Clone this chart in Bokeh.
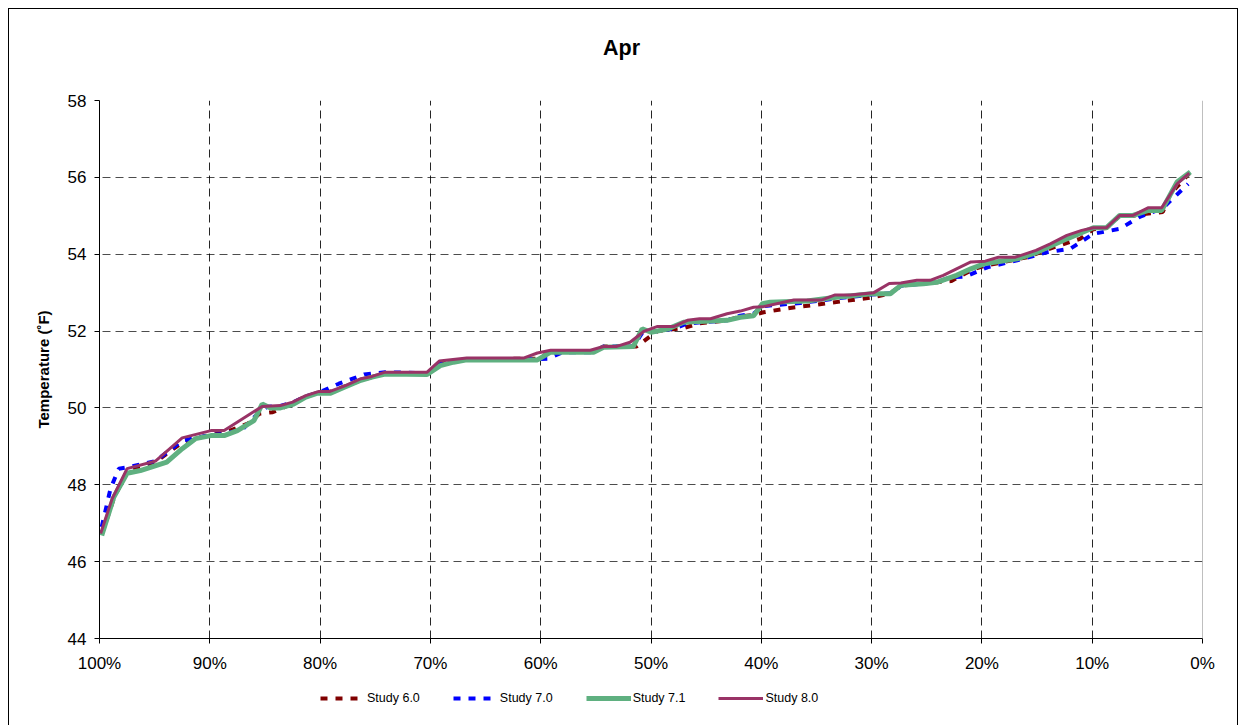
from bokeh.plotting import figure
from bokeh.layouts import column
from bokeh.models import Range1d, FixedTicker, Legend, LegendItem, Span, Label
from bokeh.embed import file_html
from bokeh.resources import INLINE

# ---------------- data ----------------
title_text = "Apr"
y_label = "Temperature (˚F)"
series_names = ["Study 6.0", "Study 7.0", "Study 7.1", "Study 8.0"]

x_ticks = [100, 90, 80, 70, 60, 50, 40, 30, 20, 10, 0]
x_tick_labels = ["100%", "90%", "80%", "70%", "60%", "50%", "40%", "30%", "20%", "10%", "0%"]
y_ticks = [44, 46, 48, 50, 52, 54, 56, 58]

# Study 6.0
x60 = [99.8, 98.7, 97.5, 94.9, 92.5, 90.0, 88.7, 86.5, 85.5, 84.3, 83.0, 81.3, 80.1, 79.1, 77.7, 76.3,
       74.1, 70.3, 69.1, 66.7, 60.3, 59.1, 55.2, 54.3, 51.9, 51.3, 50.0, 49.4, 47.05, 45.6, 43.1, 41.9,
       40.7, 39.8, 37.4, 34.9, 32.5, 30.1, 28.4, 27.35, 24.1, 22.8, 20.7, 19.7, 15.9, 13.5, 11.1, 9.9,
       8.7, 7.5, 6.3, 5.1, 3.6, 2.9, 1.2]
y60 = [46.7, 47.65, 48.35, 48.6, 49.1, 49.3, 49.35, 49.6, 49.85, 49.89, 50.05, 50.3, 50.4, 50.42, 50.57, 50.72,
       50.9, 50.9, 51.15, 51.27, 51.28, 51.45, 51.47, 51.6, 51.6, 51.6, 51.88, 52.0, 52.08, 52.2, 52.28, 52.38,
       52.42, 52.49, 52.6, 52.69, 52.78, 52.87, 52.97, 53.18, 53.27, 53.3, 53.62, 53.7, 53.92, 54.18, 54.4, 54.65,
       54.68, 55.0, 55.0, 55.05, 55.1, 55.57, 56.1]

# Study 7.0
x70 = [99.8, 99.0, 98.25, 97.5, 94.9, 92.5, 89.9, 88.7, 87.0, 85.5, 84.8, 83.6, 82.4, 81.3, 80.1, 78.3,
       76.0, 74.1, 70.3, 69.1, 66.7, 60.3, 59.4, 58.0, 55.2, 54.3, 51.6, 50.8, 49.4, 47.9, 46.7, 43.1,
       41.9, 40.7, 39.9, 36.45, 33.2, 30.0, 28.1, 27.35, 24.1, 22.85, 21.5, 19.5, 16.8, 14.1, 12.0, 9.9,
       7.5, 5.7, 3.6, 1.3]
y70 = [46.9, 47.9, 48.42, 48.45, 48.62, 49.15, 49.3, 49.32, 49.45, 49.9, 50.03, 50.05, 50.15, 50.3, 50.4, 50.63,
       50.87, 50.93, 50.9, 51.15, 51.27, 51.27, 51.28, 51.45, 51.45, 51.6, 51.6, 51.95, 52.0, 52.06, 52.2, 52.28,
       52.4, 52.45, 52.65, 52.73, 52.85, 52.95, 52.99, 53.18, 53.27, 53.4, 53.42, 53.66, 53.84, 54.05, 54.14, 54.53,
       54.66, 54.97, 55.2, 55.83]

# Study 7.1
x71 = [99.8, 98.7, 97.5, 96.3, 93.9, 92.5, 91.3, 89.9, 88.7, 87.5, 86.0, 85.25, 84.5, 83.6, 82.4, 81.3,
       80.3, 79.1, 77.85, 76.3, 75.3, 74.1, 70.3, 69.1, 67.9, 66.7, 60.3, 59.1, 55.2, 54.3, 51.6, 50.8,
       50.0, 48.5, 47.05, 43.1, 41.9, 40.7, 39.9, 39.2, 35.85, 33.2, 30.0, 28.3, 27.35, 25.3, 24.1, 22.3,
       21.0, 19.8, 16.8, 15.0, 12.3, 9.9, 8.7, 7.5, 6.3, 4.9, 3.7, 2.3, 1.1]
y71 = [46.68, 47.68, 48.3, 48.37, 48.59, 48.94, 49.2, 49.28, 49.28, 49.41, 49.67, 50.1, 50.0, 50.0, 50.1, 50.28,
       50.38, 50.38, 50.53, 50.72, 50.8, 50.88, 50.87, 51.1, 51.19, 51.25, 51.25, 51.45, 51.45, 51.58, 51.6, 52.06,
       51.97, 52.05, 52.23, 52.28, 52.36, 52.4, 52.71, 52.75, 52.78, 52.88, 52.97, 52.97, 53.19, 53.23, 53.27, 53.45,
       53.62, 53.75, 53.88, 54.05, 54.4, 54.69, 54.69, 55.01, 55.01, 55.14, 55.14, 55.88, 56.14]

# Study 8.0
x80 = [99.9, 98.85, 97.5, 94.9, 92.5, 89.9, 88.7, 85.25, 83.6, 82.5, 81.3, 80.1, 79.1, 77.7, 76.3, 75.3,
       74.1, 70.3, 69.2, 66.7, 61.5, 60.3, 59.1, 55.5, 54.3, 53.1, 51.9, 50.65, 49.4, 47.9, 46.7, 45.6,
       44.6, 43.1, 41.9, 40.7, 39.9, 38.3, 37.05, 34.5, 33.3, 31.9, 29.8, 28.4, 27.35, 25.9, 24.7, 23.5,
       22.3, 21.0, 19.7, 18.5, 17.0, 15.1, 13.8, 12.3, 10.95, 9.9, 8.7, 7.5, 6.3, 4.9, 3.7, 2.3, 1.2]
y80 = [46.73, 47.64, 48.42, 48.62, 49.22, 49.41, 49.41, 50.04, 50.06, 50.15, 50.32, 50.43, 50.43, 50.58, 50.76, 50.82,
       50.93, 50.93, 51.22, 51.3, 51.3, 51.43, 51.5, 51.5, 51.6, 51.6, 51.71, 51.99, 52.12, 52.12, 52.28, 52.32,
       52.32, 52.45, 52.52, 52.62, 52.63, 52.73, 52.81, 52.81, 52.94, 52.94, 53.0, 53.24, 53.25, 53.32, 53.32, 53.45,
       53.62, 53.8, 53.82, 53.92, 53.92, 54.1, 54.27, 54.49, 54.62, 54.69, 54.69, 55.01, 55.01, 55.21, 55.21, 55.83, 56.11]

# ---------------- styles ----------------
FONT = "Liberation Sans"
series_styles = [
    dict(line_color="#800000", line_width=4, line_dash="7 8"),
    dict(line_color="#0000FF", line_width=4, line_dash="7 8"),
    dict(line_color="#5FB080", line_width=5),
    dict(line_color="#993366", line_width=3),
]
series_x = [x60, x70, x71, x80]
series_y = [y60, y70, y71, y80]
W = 1228
BL, BR = 90, 35   # left / right borders shared by all strips so frames coincide

# ---------------- title strip ----------------
tf = figure(width=W, height=60, output_backend="svg", toolbar_location=None, title=None,
            x_axis_type=None, y_axis_type=None,
            min_border_left=BL, min_border_right=BR, min_border_top=0, min_border_bottom=0,
            x_range=Range1d(100, 0), y_range=Range1d(0, 60),
            background_fill_color="white", border_fill_color="white")
tf.outline_line_color = None
tf.xgrid.visible = False
tf.ygrid.visible = False
tf.add_layout(Label(x=52.67, y=22, text=title_text, text_align="center", text_baseline="middle",
                    text_font=FONT, text_font_size="21.5px", text_font_style="bold",
                    text_color="black"))

# ---------------- main chart ----------------
p = figure(width=W, height=611, output_backend="svg", toolbar_location=None, title=None,
           x_range=Range1d(100, 0), y_range=Range1d(44, 58),
           min_border_left=BL, min_border_right=BR, min_border_top=31, min_border_bottom=42,
           background_fill_color="white", border_fill_color="white")
p.outline_line_color = None

p.xaxis.ticker = FixedTicker(ticks=x_ticks)
p.xaxis.major_label_overrides = {t: l for t, l in zip(x_ticks, x_tick_labels)}
p.yaxis.ticker = FixedTicker(ticks=y_ticks)
p.yaxis.axis_label = y_label

for ax in (p.xaxis[0], p.yaxis[0]):
    ax.axis_line_color = "black"
    ax.axis_line_width = 1
    ax.major_tick_line_color = "black"
    ax.major_tick_in = 0
    ax.major_tick_out = 5
    ax.minor_tick_line_color = None
    ax.major_label_text_font = FONT
    ax.major_label_text_font_size = "17px"
    ax.major_label_text_color = "black"
p.xaxis.major_label_standoff = 10
p.yaxis.major_label_standoff = 8
p.yaxis.axis_label_text_font = FONT
p.yaxis.axis_label_text_font_size = "15px"
p.yaxis.axis_label_text_font_style = "bold"
p.yaxis.axis_label_text_color = "black"
p.yaxis.axis_label_standoff = 13

p.xgrid.ticker = FixedTicker(ticks=x_ticks)
p.ygrid.ticker = FixedTicker(ticks=y_ticks)
p.xgrid.grid_line_color = "black"
p.ygrid.grid_line_color = "black"
p.xgrid.grid_line_dash = "8 5"
p.ygrid.grid_line_dash = "8 5"
p.xgrid.grid_line_alpha = 0.85
p.ygrid.grid_line_alpha = 0.7

p.add_layout(Span(location=0, dimension="height", line_color="#808080", line_width=1))

for xs, ys, st in zip(series_x, series_y, series_styles):
    p.line(xs, ys, **st)

# ---------------- legend strip ----------------
# same series, drawn into a view range where they fall outside (only legend shows)
leg = figure(width=W, height=45, output_backend="svg", toolbar_location=None, title=None,
             x_axis_type=None, y_axis_type=None,
             min_border_left=BL, min_border_right=BR, min_border_top=0, min_border_bottom=0,
             x_range=Range1d(100, 0), y_range=Range1d(0, 1),
             background_fill_color="white", border_fill_color="white")
leg.outline_line_color = None
leg.xgrid.visible = False
leg.ygrid.visible = False
leg_renderers = [leg.line(xs, ys, **st) for xs, ys, st in zip(series_x, series_y, series_styles)]

legend = Legend(items=[LegendItem(label=n, renderers=[r]) for n, r in zip(series_names, leg_renderers)],
                orientation="horizontal", location=(221, 17),
                glyph_width=45, glyph_height=20, label_standoff=2, spacing=33,
                padding=0, margin=0, border_line_color=None, background_fill_alpha=0,
                label_text_font=FONT, label_text_font_size="12.5px", label_text_color="black")
leg.add_layout(legend, "center")

page = column(tf, p, leg, spacing=0)
page.styles = {"margin-left": "8px", "margin-top": "8px",
               "border-left": "1px solid black", "border-top": "1px solid black",
               "border-right": "1px solid black"}

open("out.html", "w").write(file_html(page, INLINE))
